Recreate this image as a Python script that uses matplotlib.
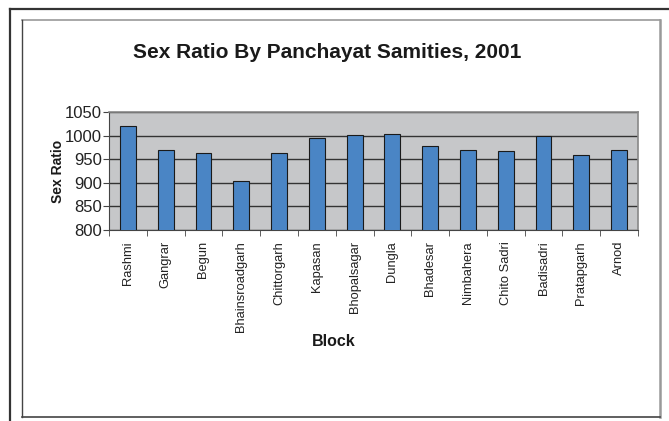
import numpy as np
import matplotlib.pyplot as plt
from matplotlib.lines import Line2D

blocks = ['Rashmi', 'Gangrar', 'Begun', 'Bhainsroadgarh', 'Chittorgarh', 'Kapasan',
          'Bhopalsagar', 'Dungla', 'Bhadesar', 'Nimbahera', 'Chito Sadri', 'Badisadri',
          'Pratapgarh', 'Arnod']
sex_ratio = [1020, 970, 964, 904, 964, 994, 1002, 1003, 979, 970, 967, 1000, 958, 970]
y_ticks = [800, 850, 900, 950, 1000, 1050]

plt.rcParams['font.family'] = ['Liberation Sans', 'DejaVu Sans']

W, H = 669, 421
fig = plt.figure(figsize=(W / 100, H / 100), dpi=100)

def px_line(x0, y0, x1, y1, color, lw):
    fig.add_artist(Line2D([x0 / W, x1 / W], [1 - y0 / H, 1 - y1 / H],
                          transform=fig.transFigure, color=color, lw=lw))

# outer and inner frames
px_line(9.5, 8.5, 669, 8.5, '#333333', 1.6)
px_line(9.5, 8.5, 9.5, 421, '#333333', 1.6)
px_line(22, 20, 660, 20, '#999999', 1.2)
px_line(660, 20, 660, 417, '#999999', 1.8)
px_line(22, 20, 22, 417, '#444444', 1.0)
px_line(22, 417, 660, 417, '#444444', 1.2)

ax = fig.add_axes([109 / W, 1 - 230 / H, 529 / W, 118 / H])
ax.set_facecolor('#c6c7c9')

x = np.arange(len(blocks))
ax.bar(x, sex_ratio, width=0.42, color='#4a85c5', edgecolor='#1a1a1a', linewidth=0.8,
       zorder=3)

ax.set_ylim(800, 1050)
ax.set_xlim(-0.5, len(blocks) - 0.5)
ax.set_yticks(y_ticks)
ax.set_yticklabels([str(v) for v in y_ticks], fontsize=12, color='#222222')
ax.yaxis.grid(True, color='#333333', linewidth=1.0, zorder=1)
ax.set_axisbelow(True)

ax.set_xticks(x)
ax.set_xticklabels(blocks, rotation=90, fontsize=9.3, color='#222222')
ax.tick_params(axis='x', length=0, pad=8)
ax.set_xticks(np.arange(len(blocks) + 1) - 0.5, minor=True)
ax.tick_params(axis='x', which='minor', length=4, direction='out', color='#444444')
ax.tick_params(axis='y', length=4, direction='out', color='#444444', pad=1)

for side in ['top', 'right']:
    ax.spines[side].set_color('#888888')
    ax.spines[side].set_linewidth(1.2)
ax.spines['left'].set_color('#444444')
ax.spines['bottom'].set_color('#444444')

fig.text(327 / W, 1 - 52 / H, 'Sex Ratio By Panchayat Samities, 2001', ha='center',
         va='center', fontsize=15, fontweight='bold', color='#1a1a1a')
fig.text(334 / W, 1 - 342 / H, 'Block', ha='center', va='center', fontsize=11.5,
         fontweight='bold', color='#1a1a1a')
fig.text(58 / W, 1 - 171 / H, 'Sex Ratio', ha='center', va='center', rotation=90,
         fontsize=10, fontweight='bold', color='#1a1a1a')

fig.savefig('out.png', dpi=100)
